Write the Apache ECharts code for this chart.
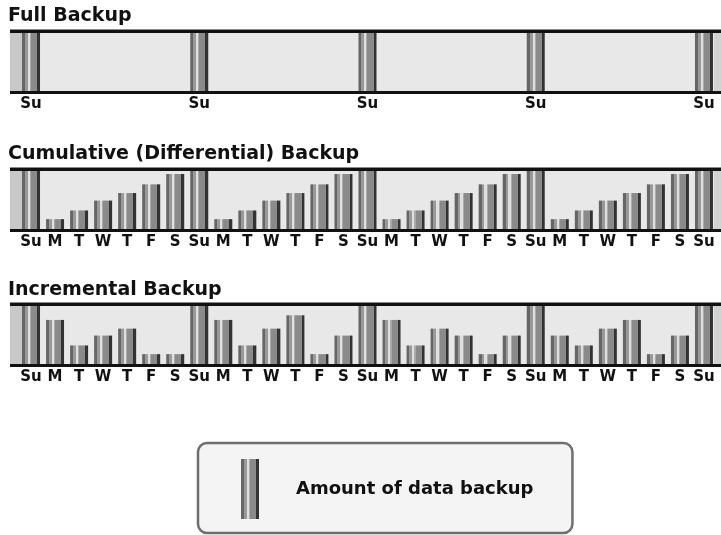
<!DOCTYPE html>
<html>
<head>
<meta charset="utf-8">
<script src="https://cdn.jsdelivr.net/npm/echarts@6/dist/echarts.min.js"></script>
<style>
  html, body { margin: 0; padding: 0; background: #fff; }
  #chart { width: 721px; height: 535px; }
</style>
</head>
<body>
<div id="chart"></div>
<script>
// day labels, 4 weeks + closing Sunday
var days = ["Su", "M", "T", "W", "T", "F", "S", "Su", "M", "T", "W", "T", "F", "S",
  "Su", "M", "T", "W", "T", "F", "S", "Su", "M", "T", "W", "T", "F", "S", "Su"];
var fullDays = ["Su", "", "", "", "", "", "", "Su", "", "", "", "", "", "",
  "Su", "", "", "", "", "", "", "Su", "", "", "", "", "", "", "Su"];

// amount of data backed up (Su full = 100)
var fullData = [100, null, null, null, null, null, null, 100, null, null, null, null, null, null,
  100, null, null, null, null, null, null, 100, null, null, null, null, null, null, 100];
var cumulativeData = [100, 17, 32, 49, 62, 77, 95, 100, 17, 32, 49, 62, 77, 95,
  100, 17, 32, 49, 62, 77, 95, 100, 17, 32, 49, 62, 77, 95, 100];
var incrementalData = [100, 76, 32, 49, 61, 17, 17, 100, 76, 32, 61, 84, 17, 49,
  100, 76, 32, 61, 49, 17, 49, 100, 49, 32, 61, 76, 17, 49, 100];

var panelTitles = ["Full Backup", "Cumulative (Differential) Backup", "Incremental Backup"];
var legendName = "Amount of data backup";

var FONT = "DejaVu Sans";
var panels = [
  { top: 33, height: 58, titleTop: 7, labels: fullDays, data: fullData },
  { top: 171, height: 58, titleTop: 145, labels: days, data: cumulativeData },
  { top: 306, height: 58, titleTop: 281, labels: days, data: incrementalData }
];

var barColor = new echarts.graphic.LinearGradient(0, 0, 1, 0, [
  { offset: 0, color: "#666" }, { offset: 0.16, color: "#666" },
  { offset: 0.16, color: "#999" }, { offset: 0.32, color: "#999" },
  { offset: 0.32, color: "#e0e0e0" }, { offset: 0.44, color: "#e0e0e0" },
  { offset: 0.44, color: "#aaa" }, { offset: 0.5, color: "#aaa" },
  { offset: 0.5, color: "#8a8a8a" }, { offset: 0.84, color: "#8a8a8a" },
  { offset: 0.84, color: "#333" }, { offset: 1, color: "#333" }
]);

var graphics = [];
panels.forEach(function (p) {
  graphics.push(
    { type: "rect", z: 0, shape: { x: 10, y: p.top, width: 711, height: p.height }, style: { fill: "#e8e8e8" } },
    { type: "rect", z: 0, shape: { x: 10, y: p.top, width: 12, height: p.height }, style: { fill: "#c8c8c8" } },
    { type: "rect", z: 0, shape: { x: 714, y: p.top, width: 7, height: p.height }, style: { fill: "#d2d2d2" } },
    { type: "rect", z: 10, shape: { x: 10, y: p.top - 4, width: 711, height: 1 }, style: { fill: "#8a8a8a" } },
    { type: "rect", z: 10, shape: { x: 10, y: p.top - 3, width: 711, height: 3 }, style: { fill: "#111" } },
    { type: "rect", z: 10, shape: { x: 10, y: p.top + p.height, width: 711, height: 3 }, style: { fill: "#111" } }
  );
});

var chart = echarts.init(document.getElementById("chart"));
chart.setOption({
  animation: false,
  backgroundColor: "#fff",
  title: panels.map(function (p, i) {
    return {
      text: panelTitles[i], left: 8, top: p.titleTop, padding: 0,
      textStyle: { fontFamily: FONT, fontSize: 19, fontWeight: "bold", color: "#111" }
    };
  }),
  legend: {
    data: [legendName],
    left: 198, top: 443,
    padding: [16, 39, 14, 43],
    itemWidth: 18, itemHeight: 60,
    icon: "rect",
    backgroundColor: "#f4f4f4",
    borderColor: "#6e6e6e", borderWidth: 2.5, borderRadius: 9,
    selectedMode: false,
    textStyle: { fontFamily: FONT, fontSize: 18, fontWeight: "bold", color: "#111", padding: [0, 0, 0, 32] }
  },
  graphic: graphics,
  grid: panels.map(function (p) {
    return { left: 19, right: 5, top: p.top, height: p.height };
  }),
  xAxis: panels.map(function (p, i) {
    return {
      type: "category", gridIndex: i, data: p.labels,
      axisLine: { show: false }, axisTick: { show: false }, splitLine: { show: false },
      axisLabel: { interval: 0, margin: 6, fontFamily: FONT, fontSize: 15, fontWeight: "bold", color: "#111" }
    };
  }),
  yAxis: panels.map(function (p, i) {
    return { type: "value", gridIndex: i, min: 0, max: 100, show: false };
  }),
  series: panels.map(function (p, i) {
    return {
      name: legendName, type: "bar", xAxisIndex: i, yAxisIndex: i,
      barWidth: 18, data: p.data,
      itemStyle: { color: barColor }
    };
  })
});
</script>
</body>
</html>
